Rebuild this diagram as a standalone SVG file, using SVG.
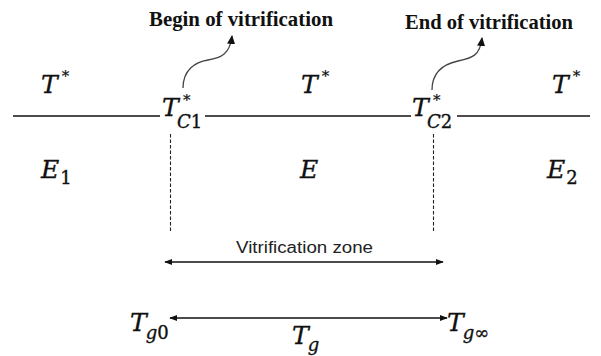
<svg xmlns="http://www.w3.org/2000/svg" width="601" height="356" viewBox="0 0 601 356">
<defs>
<marker id="ah" viewBox="0 0 10 10" refX="9" refY="5" markerWidth="8" markerHeight="8" markerUnits="userSpaceOnUse" orient="auto-start-reverse">
<path d="M0,1 L10,5 L0,9 Z" fill="#111"/>
</marker>
<marker id="ah2" viewBox="0 0 10 10" refX="9" refY="5" markerWidth="9" markerHeight="9" markerUnits="userSpaceOnUse" orient="auto">
<path d="M0,0.5 L10,5 L0,9.5 Z" fill="#111"/>
</marker>
</defs>
<style>
.m{font-family:"DejaVu Serif","Liberation Serif",serif;font-style:italic;font-size:25px;fill:#111;stroke:#111;stroke-width:0.35}
.up{font-style:normal}
.sub{font-size:18px}
.sup{font-size:15px;font-style:normal;stroke-width:0.2}
.b{font-family:"Liberation Serif",serif;font-weight:bold;font-size:20px;fill:#111}
.s{font-family:"Liberation Sans",Arial,sans-serif;font-size:16px;fill:#222}
.ln{stroke:#111;stroke-width:1.6;fill:none}
.ds{stroke:#222;stroke-width:1.1;stroke-dasharray:3.5 2;fill:none}
.cv{stroke:#444;stroke-width:1.3;fill:none}
</style>
<rect width="601" height="356" fill="#fff"/>
<g id="connectors">
<line class="ln" x1="13" y1="116" x2="160" y2="116"/>
<line class="ln" x1="205" y1="116" x2="411" y2="116"/>
<line class="ln" x1="457" y1="116" x2="590" y2="116"/>
<line class="ds" x1="170.5" y1="134" x2="170.5" y2="233"/>
<line class="ds" x1="433.5" y1="134" x2="433.5" y2="233"/>
<path class="cv" d="M183,88 C183,70 195,62 208,60 S230,54 232,36" marker-end="url(#ah2)"/>
<path class="cv" d="M432,90 C432,72 444,64 458,61 S480,56 482,38" marker-end="url(#ah2)"/>
<line class="ln" x1="165" y1="262" x2="443" y2="262" marker-start="url(#ah)" marker-end="url(#ah)"/>
<line class="ln" x1="170" y1="318" x2="447" y2="318" marker-start="url(#ah)" marker-end="url(#ah)"/>
</g>
<g id="begin"><text class="b" x="149" y="26" textLength="184" lengthAdjust="spacingAndGlyphs">Begin of vitrification</text></g>
<g id="end"><text class="b" x="405" y="29" textLength="168" lengthAdjust="spacingAndGlyphs">End of vitrification</text></g>
<g id="tstar1"><text class="m" x="41" y="93">T<tspan class="sup" dx="4" dy="-12">*</tspan></text></g>
<g id="tstar2"><text class="m" x="301" y="93">T<tspan class="sup" dx="4" dy="-12">*</tspan></text></g>
<g id="tstar3"><text class="m" x="552" y="93">T<tspan class="sup" dx="4" dy="-12">*</tspan></text></g>
<g id="tc1"><text class="m" x="162" y="116">T<tspan class="sup" x="183" y="105">*</tspan><tspan class="sub" x="177" y="128">C<tspan class="up">1</tspan></tspan></text></g>
<g id="tc2"><text class="m" x="412" y="116">T<tspan class="sup" x="433" y="105">*</tspan><tspan class="sub" x="427" y="128">C<tspan class="up">2</tspan></tspan></text></g>
<g id="e1"><text class="m" x="41" y="178">E<tspan class="sub up" dx="1" dy="6">1</tspan></text></g>
<g id="e"><text class="m" x="300" y="178">E</text></g>
<g id="e2"><text class="m" x="547" y="178">E<tspan class="sub up" dx="1" dy="6">2</tspan></text></g>
<g id="zone"><text class="s" x="236" y="253" textLength="137" lengthAdjust="spacingAndGlyphs">Vitrification zone</text></g>
<g id="tg0"><text class="m" x="130" y="331">T<tspan class="sub" dx="-1" dy="8">g<tspan class="up">0</tspan></tspan></text></g>
<g id="tginf"><text class="m" x="447" y="331">T<tspan class="sub" dx="-1" dy="8">g<tspan class="up">∞</tspan></tspan></text></g>
<g id="tg"><text class="m" x="292" y="344">T<tspan class="sub" dx="-1" dy="7">g</tspan></text></g>
</svg>
